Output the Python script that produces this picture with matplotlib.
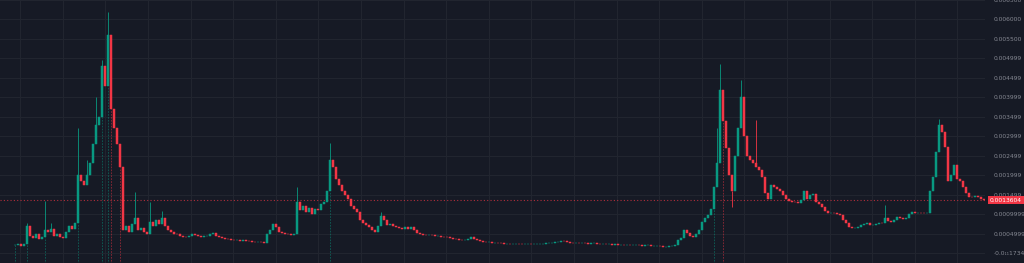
import numpy as np
import matplotlib
matplotlib.use('Agg')
import matplotlib.pyplot as plt

# closing prices, in units of 1e-5 (100 = 0.001)
closes = [
    20, 22, 18, 24, 70, 45, 38, 48, 35, 40,
    60, 55, 62, 45, 50, 42, 38, 55, 70, 62,
    78, 200, 185, 175, 200, 230, 280, 330, 350, 480,
    430, 560, 370, 320, 280, 220, 60, 70, 55, 75,
    90, 60, 65, 55, 50, 80, 70, 85, 75, 90,
    70, 60, 55, 50, 48, 45, 42, 40, 44, 50,
    46, 44, 42, 43, 45, 48, 52, 45, 40, 38,
    36, 35, 34, 33, 34, 32, 33, 31, 30, 29,
    28, 29, 28, 27, 50, 60, 75, 68, 55, 52,
    50, 48, 46, 50, 130, 110, 120, 105, 115, 100,
    112, 110, 125, 130, 160, 240, 220, 190, 175, 160,
    150, 140, 120, 112, 105, 85, 78, 72, 66, 60,
    54, 70, 95, 85, 72, 75, 70, 66, 64, 62,
    66, 62, 66, 60, 52, 48, 47, 46, 47, 46,
    44, 45, 42, 41, 40, 38, 36, 35, 34, 33,
    34, 36, 40, 36, 33, 30, 29, 28, 28, 27,
    27, 26, 25, 24, 24, 23, 23, 24, 23, 22,
    23, 23, 22, 22, 23, 24, 24, 25, 26, 27,
    28, 29, 31, 30, 28, 27, 26, 26, 25, 26,
    25, 24, 25, 25, 24, 23, 23, 22, 22, 21,
    22, 21, 21, 20, 21, 20, 20, 21, 20, 19,
    20, 20, 19, 19, 19, 18, 16, 16, 17, 18,
    20, 33, 38, 60, 52, 45, 42, 48, 60, 80,
    90, 98, 112, 170, 230, 420, 340, 270, 200, 160,
    250, 320, 400, 300, 250, 240, 230, 220, 213, 195,
    154, 140, 175, 170, 165, 160, 150, 138, 133, 132,
    130, 128, 135, 160, 140, 150, 152, 130, 125, 118,
    108, 102, 104, 103, 100, 97, 85, 76, 66, 64,
    64, 68, 72, 74, 76, 72, 73, 74, 77, 76,
    90, 82, 80, 85, 92, 90, 88, 90, 100, 105,
    102, 104, 103, 102, 104, 160, 195, 260, 330, 310,
    272, 185, 200, 225, 190, 185, 170, 154, 145, 144,
    146, 143, 140, 136,
]

# wick extremes where they stand out from the bodies
wick_highs = {4: 77, 10: 133, 12: 78, 21: 320, 24: 240, 27: 400, 29: 495,
              31: 618, 32: 460, 40: 156, 45: 130, 49: 108, 94: 169, 105: 282,
              122: 105, 234: 320, 235: 485, 242: 444, 247: 341, 290: 123,
              308: 345}
wick_lows = {239: 118}
# bad ticks that dip below zero (drawn faint, like the reference)
glitch_lows = {0: -30, 4: -30, 10: -30, 21: -30, 29: -30, 31: -30,
               32: -30, 35: -30, 105: -30, 233: -30, 236: -30}

tick_vals = [650, 600, 550, 499.9, 449.9, 399.9, 349.9, 299.9, 249.9,
             199.9, 149.9, 99.99, 49.99, 0]
tick_labels = ['0.006500', '0.006000', '0.005500', '0.004999', '0.004499',
               '0.003999', '0.003499', '0.002999', '0.002499', '0.001999',
               '0.001499', '0.0009999', '0.0004999', '-0.0\u2081\u20811734']
last_label = '0.0013604'

bg = '#161a25'
up = '#089981'
down = '#f23645'

fig = plt.figure(figsize=(10.24, 2.63), dpi=100, facecolor=bg)
ax = fig.add_axes([0, 0, 985 / 1024, 1])
ax.set_facecolor(bg)

c = np.array(closes, dtype=float)
o = np.concatenate([[c[0]], c[:-1]])
x = np.arange(len(c))
colors = [up if cc >= oo else down for oo, cc in zip(o, c)]

# wicks
for i, hv in wick_highs.items():
    ax.vlines(i, max(o[i], c[i]), hv, color=colors[i], lw=0.6, zorder=2)
for i, lv in wick_lows.items():
    ax.vlines(i, lv, min(o[i], c[i]), color=colors[i], lw=0.6, zorder=2)
for i, lv in glitch_lows.items():
    ax.vlines(i, lv, min(o[i], c[i]), color=colors[i], lw=0.6, alpha=0.55,
              ls=(0, (2, 1.5)), zorder=2)

# bodies
ax.bar(x, c - o, bottom=o, width=0.45, color=colors, edgecolor=colors,
       linewidth=0.35, zorder=3)

# last price line
ax.axhline(c[-1], color=down, lw=0.8, ls=(0, (1, 2)), alpha=0.7, zorder=1)

ax.set_xlim(-5, len(c) - 0.7)
ax.set_ylim(-25.6, 648.7)

# grid
ax.set_yticks(tick_vals)
ax.set_yticklabels(tick_labels)
ax.set_xticks(np.arange(1.7, len(c), 14.2))
ax.grid(True, color='#21252f', lw=0.8)
ax.set_axisbelow(True)
ax.tick_params(axis='x', length=0, labelbottom=False)
ax.yaxis.tick_right()
ax.tick_params(axis='y', length=0, pad=6, labelsize=4.3, labelcolor='#868993')
for s in ax.spines.values():
    s.set_visible(False)

# last price tag on the axis
ax.annotate(last_label, xy=(1.0, c[-1]), xycoords=('axes fraction', 'data'),
            xytext=(3.5, 0), textcoords='offset points', ha='left', va='center',
            fontsize=4.3, color='white',
            bbox=dict(boxstyle='square,pad=0.3', fc=down, ec='none'))

fig.savefig('out.png', dpi=100, facecolor=bg)
